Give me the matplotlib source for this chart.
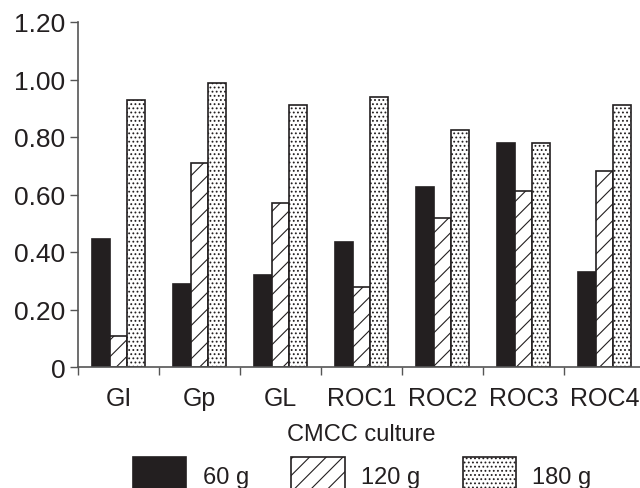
import matplotlib
matplotlib.use("Agg")
import matplotlib.pyplot as plt
import numpy as np

cultures = ["GI", "Gp", "GL", "ROC1", "ROC2", "ROC3", "ROC4"]
g60 = [0.445, 0.29, 0.32, 0.434, 0.625, 0.779, 0.329]
g120 = [0.107, 0.708, 0.569, 0.279, 0.518, 0.613, 0.683]
g180 = [0.929, 0.987, 0.911, 0.938, 0.824, 0.778, 0.911]
series_labels = ["60 g", "120 g", "180 g"]
yticks = [0, 0.2, 0.4, 0.6, 0.8, 1.0, 1.2]
ytick_labels = ["0", "0.20", "0.40", "0.60", "0.80", "1.00", "1.20"]

plt.rcParams['font.family'] = ['Liberation Sans', 'DejaVu Sans']
plt.rcParams['hatch.linewidth'] = 0.8

fig = plt.figure(figsize=(6.4, 4.89), dpi=100)
ax = fig.add_axes([78/640, 1 - 368/489, 567/640, 345/489])

x = np.arange(len(cultures))
w = 0.22
ec = "#231f20"
ax.bar(x - w, g60, w, color=ec, edgecolor=ec, linewidth=1.2, label=series_labels[0])
ax.bar(x, g120, w, color="white", edgecolor=ec, hatch="//", linewidth=1.2, label=series_labels[1])
ax.bar(x + w, g180, w, color="white", edgecolor=ec, hatch="....", linewidth=1.2, label=series_labels[2])

ax.set_xlim(-0.5, len(cultures) - 0.5)
ax.set_ylim(0, 1.2)
ax.set_yticks(yticks)
ax.set_yticklabels(ytick_labels, fontsize=19, color="#231f20")
ax.set_xticks(x)
ax.set_xticklabels(cultures, fontsize=18, color="#231f20")
ax.set_xticks(np.arange(len(cultures) + 1) - 0.5, minor=True)
ax.tick_params(axis="x", which="major", length=0, pad=14)
ax.tick_params(axis="x", which="minor", length=6, width=1, direction="out", color="#555555")
ax.tick_params(axis="y", length=6, width=1, color="#555555", pad=3)

for s in ["top", "right"]:
    ax.spines[s].set_visible(False)
for s in ["left", "bottom"]:
    ax.spines[s].set_color("#555555")
    ax.spines[s].set_linewidth(1.2)

ax.set_xlabel("CMCC culture", fontsize=17, color="#231f20", labelpad=9)

fig.legend(loc="upper left", bbox_to_anchor=(133/640, 1 - 458/489), ncol=3,
           frameon=False, fontsize=17, handlelength=2.25, handleheight=2.0,
           handletextpad=0.7, columnspacing=1.8, borderpad=0, borderaxespad=0,
           labelcolor="#231f20")

fig.savefig("out.png", dpi=100)
